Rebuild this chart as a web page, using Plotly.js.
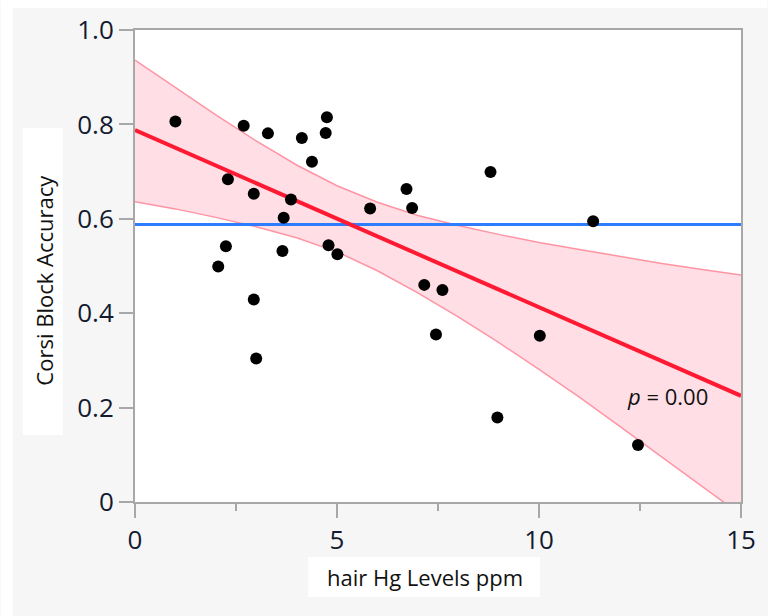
<!DOCTYPE html>
<html>
<head>
<meta charset="utf-8">
<script src="https://cdn.plot.ly/plotly-3.0.1.min.js"></script>
<style>html,body{margin:0;padding:0;background:#fff;}#chart{width:768px;height:616px;}</style>
</head>
<body>
<div id="chart"></div>
<script>
// Observed data points (hair Hg ppm, Corsi block accuracy)
var hgLevels = [1.00, 2.69, 3.29, 4.13, 4.75, 4.72, 4.38, 2.30, 2.94, 3.86, 3.68, 5.82, 6.72, 6.86, 8.80,
                11.34, 2.25, 2.06, 3.65, 4.79, 5.01, 2.94, 3.00, 7.16, 7.61, 7.45, 10.02, 8.97, 12.45];
var accuracy = [0.806, 0.797, 0.781, 0.771, 0.815, 0.782, 0.721, 0.684, 0.653, 0.641, 0.602, 0.622, 0.663, 0.623, 0.699,
                0.595, 0.542, 0.499, 0.532, 0.544, 0.525, 0.429, 0.304, 0.460, 0.449, 0.355, 0.352, 0.179, 0.121];

// Fitted line (read at ends) and mean line
var fitX = [0, 15];
var fitY = [0.788, 0.225];
var meanX = [0, 15];
var meanY = [0.588, 0.588];

// Confidence band
var bandX = [0, 1, 2, 3, 4, 5, 6, 7, 8, 9, 10, 11, 12, 13, 14, 15];
var bandUpper = [0.936, 0.878, 0.820, 0.765, 0.714, 0.670, 0.635, 0.607, 0.586, 0.567, 0.550, 0.535, 0.520, 0.506, 0.493, 0.481];
var bandLower = [0.636, 0.621, 0.603, 0.583, 0.560, 0.530, 0.490, 0.443, 0.392, 0.338, 0.281, 0.222, 0.160, 0.098, 0.035, -0.027];

var xTicks = [0, 5, 10, 15];
var xTickText = ['0', '5', '10', '15'];
var yTicks = [0, 0.2, 0.4, 0.6, 0.8, 1.0];
var yTickText = ['0', '0.2', '0.4', '0.6', '0.8', '1.0'];

var xTitle = 'hair Hg Levels ppm';
var yTitle = 'Corsi Block Accuracy';
var pText = '<i>p</i> = 0.00';

var bandEdge = '#ff94a4';
var traces = [
  {x: bandX, y: bandLower, mode: 'lines', line: {color: bandEdge, width: 1.5}, hoverinfo: 'skip', showlegend: false},
  {x: bandX, y: bandUpper, mode: 'lines', fill: 'tonexty', fillcolor: 'rgba(255,120,145,0.24)',
   line: {color: bandEdge, width: 1.5}, hoverinfo: 'skip', showlegend: false},
  {x: meanX, y: meanY, mode: 'lines', line: {color: '#2f7dff', width: 3}, showlegend: false},
  {x: fitX, y: fitY, mode: 'lines', line: {color: '#ff1a33', width: 4}, showlegend: false},
  {x: hgLevels, y: accuracy, mode: 'markers', marker: {color: '#000', size: 12}, showlegend: false}
];

var W = 768, H = 616, L = 134.5, R = 741.5, T = 30, B = 502;
function px(p) { return (p - L) / (R - L); }
function py(p) { return (B - p) / (B - T); }

var axisCommon = {
  showline: true, linecolor: '#a8a8a8', linewidth: 2, mirror: true,
  showgrid: false, zeroline: false,
  ticks: 'outside', ticklen: 14, tickwidth: 2, tickcolor: '#a8a8a8',
  tickfont: {family: 'Open Sans, Noto Sans, sans-serif', size: 26, color: '#141a30'}
};

var layout = {
  width: W, height: H,
  margin: {l: L, r: W - R, t: T, b: H - B, pad: 0},
  paper_bgcolor: '#f6f6f6',
  plot_bgcolor: '#ffffff',
  showlegend: false,
  xaxis: Object.assign({}, axisCommon, {
    range: [0, 15], tickmode: 'array', tickvals: xTicks, ticktext: xTickText,
    minor: {tickmode: 'array', tickvals: [2.5, 7.5, 12.5], ticks: 'outside', ticklen: 7, tickwidth: 2, tickcolor: '#a8a8a8'}
  }),
  yaxis: Object.assign({}, axisCommon, {
    range: [0, 1], tickmode: 'array', tickvals: yTicks, ticktext: yTickText
  }),
  shapes: [
    {type: 'rect', xref: 'paper', yref: 'paper', x0: px(0), x1: px(W), y0: py(0), y1: py(8), fillcolor: '#ffffff', line: {width: 0}, layer: 'below'},
    {type: 'rect', xref: 'paper', yref: 'paper', x0: px(0), x1: px(12), y0: py(0), y1: py(H), fillcolor: '#ffffff', line: {width: 0}, layer: 'below'},
    {type: 'rect', xref: 'paper', yref: 'paper', x0: px(308), x1: px(540), y0: py(557), y1: py(597), fillcolor: '#ffffff', line: {width: 0}, layer: 'below'},
    {type: 'rect', xref: 'paper', yref: 'paper', x0: px(22), x1: px(62), y0: py(128), y1: py(435), fillcolor: '#ffffff', line: {width: 0}, layer: 'below'}
  ],
  annotations: [
    {text: xTitle, xref: 'paper', yref: 'paper', x: px(424.5), y: py(577), xanchor: 'center', yanchor: 'middle', showarrow: false,
     font: {family: 'Open Sans, Noto Sans, sans-serif', size: 22, color: '#111'}},
    {text: yTitle, xref: 'paper', yref: 'paper', x: px(43), y: py(280), xanchor: 'center', yanchor: 'middle', showarrow: false, textangle: -90,
     font: {family: 'Open Sans, Noto Sans, sans-serif', size: 22, color: '#111'}},
    {text: pText, xref: 'x', yref: 'y', x: 13.17, y: 0.225, xanchor: 'center', yanchor: 'middle', showarrow: false,
     font: {family: 'Open Sans, Noto Sans, sans-serif', size: 22, color: '#111'}}
  ]
};

Plotly.newPlot('chart', traces, layout, {displayModeBar: false, staticPlot: true});
</script>
</body>
</html>
